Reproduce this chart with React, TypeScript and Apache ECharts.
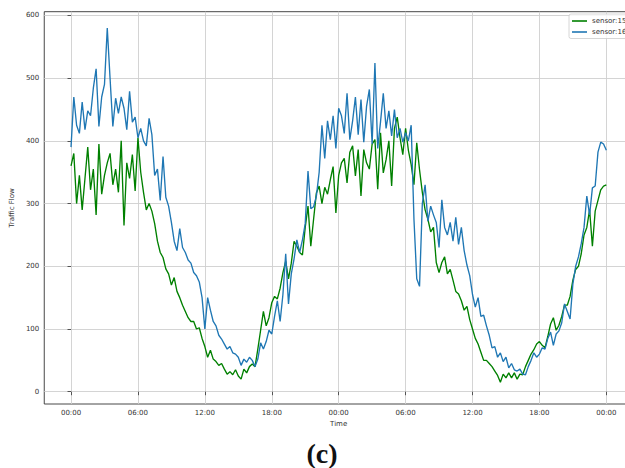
import React, { useEffect, useRef } from "react";
import * as echarts from "echarts";

// time ticks in hours from start (two days)
const timeTickHours = [0, 6, 12, 18, 24, 30, 36, 42, 48];
const flowTicks = [0, 100, 200, 300, 400, 500, 600];
const stepMinutes = 15;

// sensor:15 (green), one value every 15 minutes, 00:00 .. 00:00 (+2 days)
const sensor15 = [
  360, 380, 300, 345, 290, 340, 390, 322, 355, 282, 395, 315, 345, 365, 380, 330, 355, 318, 400, 265, 365, 340, 378, 320, 405,
  350, 318, 290, 300, 288, 268, 240, 222, 214, 196, 188, 170, 182, 160, 150, 138, 128, 118, 112, 112, 100, 102, 85, 72,
  55, 66, 52, 48, 42, 45, 36, 28, 32, 27, 35, 25, 20, 36, 30, 40, 44, 40, 68, 98, 128, 105, 118, 142,
  152, 148, 165, 190, 208, 180, 205, 240, 232, 222, 218, 262, 296, 232, 275, 317, 328, 300, 326, 315, 338, 359, 285, 345,
  365, 372, 333, 382, 392, 344, 386, 312, 386, 365, 355, 395, 402, 323, 413, 349, 370, 400, 328, 420, 438, 405, 378, 420,
  385, 362, 330, 397, 354, 318, 290, 275, 255, 262, 206, 190, 206, 215, 188, 195, 178, 160, 156, 145, 130, 136, 115, 100,
  85, 76, 63, 50, 50, 45, 40, 33, 26, 15, 28, 22, 30, 22, 30, 20, 28, 27, 40, 50, 60, 67, 76, 80,
  74, 70, 88, 108, 118, 98, 106, 120, 138, 138, 152, 178, 195, 200, 220, 250, 262, 290, 232, 288, 305, 322, 328, 330,
];

// sensor:16 (blue)
const sensor16 = [
  390, 470, 425, 412, 462, 418, 448, 440, 484, 515, 423, 470, 490, 580, 500, 423, 468, 444, 470, 452, 418, 479, 430, 438, 405,
  420, 400, 392, 436, 410, 345, 355, 305, 375, 310, 296, 270, 240, 225, 260, 230, 222, 210, 205, 190, 185, 175, 150, 100,
  150, 130, 112, 105, 90, 84, 76, 68, 72, 62, 60, 55, 42, 52, 47, 55, 50, 40, 52, 78, 68, 80, 98, 92,
  120, 145, 112, 155, 220, 140, 188, 212, 242, 222, 242, 268, 352, 292, 295, 312, 350, 425, 372, 432, 402, 440, 388, 452,
  440, 412, 476, 402, 432, 470, 410, 466, 398, 455, 482, 395, 524, 388, 430, 476, 420, 448, 408, 450, 405, 420, 398, 413,
  400, 425, 275, 180, 168, 300, 330, 272, 296, 282, 270, 230, 306, 262, 250, 270, 240, 278, 235, 262, 225, 202, 185, 155,
  135, 150, 120, 122, 105, 90, 70, 72, 55, 62, 48, 55, 38, 45, 35, 33, 36, 28, 27, 40, 50, 62, 55, 60,
  70, 68, 85, 95, 74, 92, 97, 110, 140, 128, 116, 172, 200, 215, 236, 262, 312, 282, 325, 328, 382, 398, 395, 385,
];

const FONT = "DejaVu Sans";
const INNER_W = 660;

export default function App() {
  const ref = useRef<HTMLDivElement>(null);

  useEffect(() => {
    const chart = echarts.init(ref.current!, null, { renderer: "svg" });
    const toPairs = (vals: number[]) => vals.map((v, i) => [(i * stepMinutes) / 60, v]);
    const fmtTime = (h: number) => String(Math.round(h) % 24).padStart(2, "0") + ":00";

    chart.setOption({
      animation: false,
      backgroundColor: "#ffffff",
      grid: {
        left: 41.3,
        top: 11.7,
        right: INNER_W - 633.1,
        bottom: 64,
        show: true,
        borderColor: "#333333",
        borderWidth: 0.9,
        backgroundColor: "transparent",
      },
      legend: {
        orient: "vertical",
        left: 569,
        top: 14,
        padding: [2.5, 40, 2, 3],
        itemGap: 2,
        itemWidth: 15,
        itemHeight: 1.6,
        icon: "rect",
        borderColor: "#cccccc",
        borderWidth: 0.8,
        borderRadius: 2,
        backgroundColor: "rgba(255,255,255,0.8)",
        textStyle: { fontSize: 7, fontFamily: FONT, color: "#333333", lineHeight: 9 },
        data: ["sensor:15", "sensor:16"],
      },
      xAxis: {
        type: "value",
        min: -2.4,
        max: 50.4,
        name: "Time",
        nameLocation: "middle",
        nameGap: 11,
        nameTextStyle: { fontSize: 7, fontFamily: FONT, color: "#333333" },
        axisLine: { show: false },
        axisTick: { show: true, length: 3.5, customValues: timeTickHours, lineStyle: { color: "#333333", width: 0.8 } },
        axisLabel: {
          customValues: timeTickHours,
          formatter: (v: number) => fmtTime(v),
          fontSize: 7,
          fontFamily: FONT,
          color: "#333333",
          margin: 5,
        },
        splitLine: { show: true, lineStyle: { color: "#cfcfcf", width: 0.9 } },
      },
      yAxis: {
        type: "value",
        min: -19.6,
        max: 606,
        name: "Traffic Flow",
        nameLocation: "middle",
        nameGap: 19,
        nameTextStyle: { fontSize: 7, fontFamily: FONT, color: "#333333" },
        axisLine: { show: false },
        axisTick: { show: true, length: 3.5, customValues: flowTicks, lineStyle: { color: "#333333", width: 0.8 } },
        axisLabel: {
          customValues: flowTicks,
          fontSize: 7,
          fontFamily: FONT,
          color: "#333333",
          margin: 5,
        },
        splitLine: { show: true, lineStyle: { color: "#cfcfcf", width: 0.9 } },
      },
      series: [
        {
          name: "sensor:15",
          type: "line",
          data: toPairs(sensor15),
          showSymbol: false,
          symbol: "none",
          color: "#008000",
          lineStyle: { color: "#008000", width: 1.35 },
        },
        {
          name: "sensor:16",
          type: "line",
          data: toPairs(sensor16),
          showSymbol: false,
          symbol: "none",
          color: "#1f77b4",
          lineStyle: { color: "#1f77b4", width: 1.35 },
        },
      ],
      graphic: [
        {
          type: "text",
          x: 322,
          y: 453,
          style: {
            text: "(c)",
            font: 'bold 28px "Liberation Serif"',
            fill: "#111111",
            textAlign: "center",
            textVerticalAlign: "middle",
          },
        },
      ],
    });

    return () => chart.dispose();
  }, []);

  return (
    <div style={{ position: "absolute", left: 0, top: 0, width: 625, height: 468, overflow: "hidden", background: "#fff" }}>
      <div ref={ref} style={{ width: INNER_W, height: 468 }} />
    </div>
  );
}
